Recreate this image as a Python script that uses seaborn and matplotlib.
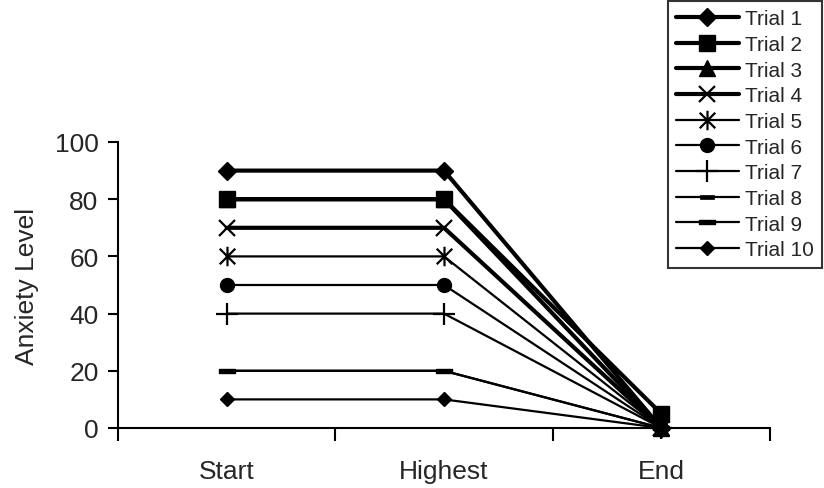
import numpy as np
import pandas as pd
import matplotlib
matplotlib.use("Agg")
import matplotlib.pyplot as plt
from matplotlib.path import Path
import seaborn as sns

categories = ["Start", "Highest", "End"]
trial_names = ["Trial 1", "Trial 2", "Trial 3", "Trial 4", "Trial 5",
               "Trial 6", "Trial 7", "Trial 8", "Trial 9", "Trial 10"]
trial1 = [90, 90, 0]
trial2 = [80, 80, 5]
trial3 = [80, 80, 0]
trial4 = [70, 70, 0]
trial5 = [60, 60, 0]
trial6 = [50, 50, 0]
trial7 = [40, 40, 0]
trial8 = [20, 20, 0]
trial9 = [20, 20, 0]
trial10 = [10, 10, 0]
y_ticks = [0, 20, 40, 60, 80, 100]

series = [trial1, trial2, trial3, trial4, trial5, trial6, trial7, trial8, trial9, trial10]

rows = []
for name, vals in zip(trial_names, series):
    for i, (c, v) in enumerate(zip(categories, vals)):
        rows.append({"trial": name, "pos": i, "cat": c, "value": v})
df = pd.DataFrame(rows)

sns.set_theme(style="white")
plt.rcParams['font.family'] = ['Liberation Sans', 'DejaVu Sans']

asterisk = Path([(0, -1), (0, 1), (-0.8, -0.8), (0.8, 0.8), (-0.8, 0.8), (0.8, -0.8)],
                [Path.MOVETO, Path.LINETO, Path.MOVETO, Path.LINETO, Path.MOVETO, Path.LINETO])
dash = Path([(-1, -0.25), (1, -0.25), (1, 0.25), (-1, 0.25), (-1, -0.25)],
            [Path.MOVETO, Path.LINETO, Path.LINETO, Path.LINETO, Path.CLOSEPOLY])

styles = [
    dict(marker="D", ms=9, lw=3.0, mew=1),
    dict(marker="s", ms=12, lw=3.0, mew=1),
    dict(marker="^", ms=11, lw=3.0, mew=1),
    dict(marker="x", ms=12, lw=3.0, mew=1.6),
    dict(marker=asterisk, ms=14, lw=1.6, mew=1.6),
    dict(marker="o", ms=10, lw=1.6, mew=1),
    dict(marker="+", ms=16, lw=1.6, mew=1.6),
    dict(marker=dash, ms=10, lw=1.6, mew=0.5),
    dict(marker=dash, ms=12, lw=1.6, mew=1),
    dict(marker="D", ms=7, lw=1.6, mew=1),
]

fig = plt.figure(figsize=(8.24, 4.89), dpi=100)
ax = fig.add_axes([118/824, (489-429)/489, (770-118)/824, (429-143)/489])

handles = []
for name, st in zip(trial_names, styles):
    sub = df[df["trial"] == name]
    sns.lineplot(data=sub, x="pos", y="value", ax=ax, color="black",
                 linewidth=st["lw"], marker=st["marker"], markersize=st["ms"],
                 markeredgewidth=st["mew"], markeredgecolor="black",
                 markerfacecolor="black", sort=False, estimator=None,
                 legend=False, clip_on=False)
    handles.append(ax.lines[-1])

ax.set_xlim(-0.5, 2.5)
ax.set_ylim(0, 100)
ax.set_xticks([-0.5, 0.5, 1.5, 2.5])
ax.set_xticklabels([])
ax.set_xticks([0, 1, 2], minor=True)
ax.set_xticklabels(categories, minor=True, fontsize=19)
ax.tick_params(axis="x", which="major", direction="out", length=9, width=1.5, color="black", bottom=True)
ax.tick_params(axis="x", which="minor", length=0, pad=22)
ax.set_yticks(y_ticks)
ax.set_yticklabels([str(v) for v in y_ticks], fontsize=19)
ax.tick_params(axis="y", direction="out", length=7, width=1.5, color="black", left=True, pad=7)
ax.set_xlabel("")
ax.set_ylabel("Anxiety Level", fontsize=19, labelpad=11)
for s in ["top", "right"]:
    ax.spines[s].set_visible(False)
for s in ["left", "bottom"]:
    ax.spines[s].set_color("black")
    ax.spines[s].set_linewidth(1.5)

leg = fig.legend(handles, trial_names, loc="upper right",
                 bbox_to_anchor=(822/824, 487/489), frameon=True, fancybox=False,
                 fontsize=15, handlelength=3.0, handletextpad=0.3,
                 labelspacing=0.32, borderpad=0.4, borderaxespad=0)
leg.get_frame().set_edgecolor("black")
leg.get_frame().set_linewidth(1.5)

fig.savefig("out.png", dpi=100, facecolor="white")
